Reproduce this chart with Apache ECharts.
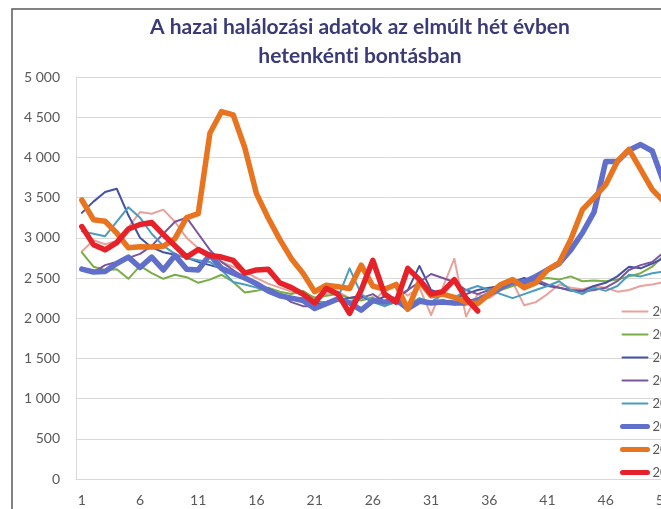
<!DOCTYPE html>
<html>
<head>
<meta charset="utf-8">
<script src="https://cdn.jsdelivr.net/npm/echarts@6/dist/echarts.min.js"></script>
<style>
  html, body { margin: 0; padding: 0; background: #fff; overflow: hidden; }
  #main { width: 720px; height: 509px; }
</style>
</head>
<body>
<div id="main"></div>
<script>
// heti halálozások, hetek 1..53
var weeks = [];
for (var w = 1; w <= 53; w++) weeks.push(String(w));

var years = ['2015', '2016', '2017', '2018', '2019', '2020', '2021', '2022'];

var d2015 = [2830, 2970, 2920, 2960, 3130, 3320, 3300, 3350, 3200, 3000, 2870, 2780, 2700, 2640, 2580, 2500, 2430, 2380, 2330, 2300,
  2260, 2300, 2330, 2250, 2280, 2200, 2350, 2400, 2280, 2380, 2040, 2380, 2740, 2020, 2300, 2250, 2350, 2450, 2160, 2200,
  2300, 2420, 2380, 2360, 2400, 2380, 2330, 2350, 2400, 2420, 2450, 2480, 2500];
var d2016 = [2820, 2640, 2600, 2610, 2490, 2650, 2560, 2490, 2540, 2510, 2440, 2480, 2540, 2450, 2320, 2340, 2380, 2330, 2300, 2340,
  2250, 2280, 2300, 2250, 2220, 2260, 2150, 2260, 2170, 2240, 2200, 2230, 2170, 2200, 2250, 2300, 2350, 2400, 2430, 2480,
  2500, 2480, 2520, 2460, 2470, 2460, 2480, 2520, 2560, 2640, 2780, 2850, 2900];
var d2017 = [3310, 3450, 3570, 3610, 3280, 3000, 2880, 2820, 2790, 2750, 2700, 2660, 2620, 2560, 2500, 2430, 2370, 2300, 2260, 2200,
  2180, 2200, 2230, 2250, 2280, 2200, 2270, 2250, 2350, 2650, 2350, 2300, 2250, 2300, 2350, 2380, 2400, 2450, 2500, 2450,
  2400, 2380, 2350, 2340, 2400, 2440, 2520, 2640, 2620, 2680, 2750, 2800, 2850];
var d2018 = [2600, 2570, 2660, 2700, 2750, 2800, 2900, 3050, 3200, 3250, 3050, 2850, 2700, 2600, 2500, 2400, 2350, 2300, 2200, 2150,
  2150, 2200, 2250, 2200, 2250, 2300, 2200, 2250, 2350, 2450, 2550, 2500, 2450, 2350, 2300, 2350, 2400, 2430, 2460, 2480,
  2420, 2380, 2340, 2330, 2350, 2380, 2460, 2600, 2660, 2700, 2820, 2900, 2950];
var d2019 = [3080, 3050, 3020, 3200, 3380, 3250, 3050, 2900, 2800, 2750, 2720, 2700, 2600, 2450, 2420, 2380, 2330, 2300, 2250, 2250,
  2200, 2200, 2250, 2620, 2300, 2200, 2150, 2200, 2150, 2250, 2200, 2300, 2250, 2350, 2400, 2350, 2300, 2250, 2300, 2350,
  2400, 2460, 2350, 2300, 2380, 2340, 2400, 2540, 2520, 2560, 2580, 2600, 2620];
var d2020 = [2610, 2575, 2580, 2680, 2760, 2630, 2760, 2600, 2780, 2610, 2600, 2790, 2620, 2560, 2500, 2430, 2340, 2280, 2250, 2220,
  2120, 2180, 2240, 2190, 2100, 2220, 2200, 2230, 2120, 2210, 2190, 2200, 2190, 2190, 2220, 2300, 2380, 2450, 2450, 2520,
  2600, 2680, 2850, 3060, 3320, 3950, 3950, 4090, 4160, 4080, 3680, 3450, 3250];
var d2021 = [3470, 3225, 3205, 3060, 2875, 2890, 2885, 2895, 2990, 3250, 3300, 4300, 4570, 4530, 4120, 3550, 3250, 2980, 2740, 2560,
  2330, 2410, 2390, 2370, 2660, 2400, 2360, 2420, 2110, 2460, 2280, 2300, 2260, 2200, 2180, 2300, 2420, 2480, 2380, 2440,
  2600, 2690, 2980, 3350, 3500, 3660, 3950, 4100, 3850, 3600, 3450, 3300, 3200];
var d2022 = [3140, 2915, 2850, 2940, 3110, 3165, 3190, 3040, 2900, 2760, 2855, 2780, 2760, 2720, 2560, 2600, 2610, 2440, 2380, 2300,
  2190, 2370, 2300, 2060, 2350, 2720, 2300, 2200, 2620, 2480, 2300, 2330, 2480, 2250, 2090];

var yearData = [d2015, d2016, d2017, d2018, d2019, d2020, d2021, d2022];
var colors = ['#e9a29b', '#79ad45', '#4552a3', '#7b559f', '#4b9dc0', '#5f6fca', '#e8741f', '#e62129'];
var widths = [2, 2, 2, 2, 2, 5.5, 5.5, 5.5];

var myChart = echarts.init(document.getElementById('main'));

var series = years.map(function (y, i) {
  return {
    name: y,
    type: 'line',
    symbol: 'none',
    data: yearData[i],
    lineStyle: { color: colors[i], width: widths[i], join: 'round', cap: 'round' },
    itemStyle: { color: colors[i] },
    z: 2 + i
  };
});

var legendData = years.map(function (y, i) {
  return { name: y, lineStyle: { width: widths[i] > 3 ? 5 : 2, cap: 'round' } };
});

var option = {
  animation: false,
  backgroundColor: '#ffffff',
  title: {
    // \u200c: no "ti" ligature
    text: 'A hazai halálozási adatok az elmúlt hét évben\nhetenként\u200ci bontásban',
    left: 355,
    top: 8,
    textAlign: 'center',
    textStyle: {
      fontFamily: 'Lato',
      fontWeight: 'bold',
      fontSize: 21,
      lineHeight: 29,
      color: '#3a3a78'
    }
  },
  graphic: [{
    type: 'rect',
    shape: { x: 12, y: 9, width: 760, height: 560 },
    style: { fill: 'none', stroke: '#5a5a5a', lineWidth: 1.5 },
    silent: true,
    z: 100
  }],
  legend: {
    orient: 'vertical',
    left: 615,
    top: 300,
    itemWidth: 25,
    itemHeight: 10,
    itemGap: 10,
    selectedMode: false,
    itemStyle: { opacity: 0 },
    textStyle: { fontFamily: 'Lato', fontSize: 13, lineHeight: 13, color: '#595959' },
    data: legendData
  },
  grid: { left: 76, right: 27, top: 77, bottom: 30, containLabel: false },
  xAxis: {
    type: 'category',
    data: weeks,
    boundaryGap: true,
    axisTick: { show: false },
    axisLine: { lineStyle: { color: '#d9d9d9', width: 1 } },
    axisLabel: { interval: 4, margin: 14, fontFamily: 'Lato', fontSize: 14, color: '#595959' }
  },
  yAxis: {
    type: 'value',
    min: 0,
    max: 5000,
    interval: 500,
    axisLine: { show: true, lineStyle: { color: '#d9d9d9', width: 1 } },
    axisTick: { show: false },
    splitLine: { lineStyle: { color: '#d9d9d9', width: 1 } },
    axisLabel: {
      margin: 16,
      fontFamily: 'Lato',
      fontSize: 14,
      color: '#595959',
      formatter: function (v) {
        return String(v).replace(/\B(?=(\d{3})+(?!\d))/g, ' ');
      }
    }
  },
  series: series
};

myChart.setOption(option);
</script>
</body>
</html>
